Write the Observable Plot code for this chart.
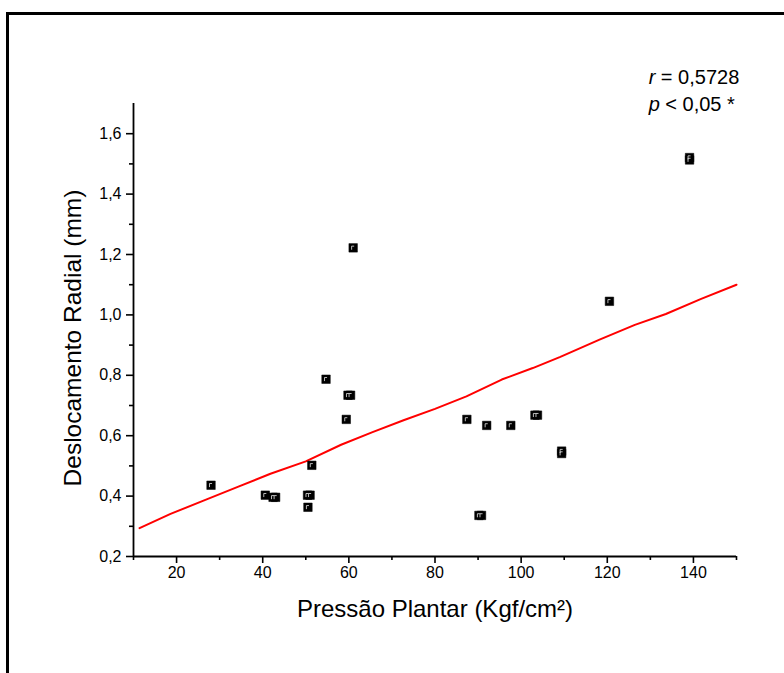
<!DOCTYPE html>
<html>
<head>
<meta charset="utf-8">
<script src="https://cdn.jsdelivr.net/npm/d3@7"></script>
<script src="https://cdn.jsdelivr.net/npm/@observablehq/plot@0.6"></script>
<style>
  html, body { margin: 0; padding: 0; background: #fff; width: 784px; height: 673px; overflow: hidden; }
  #frame { position: absolute; left: 6px; top: 12px; width: 900px; height: 900px; border: 3px solid #000; box-sizing: border-box; }
  #chart { position: absolute; left: 0; top: 0; }
  svg { font-family: "Liberation Sans", Arial, sans-serif; color: #000; }
</style>
</head>
<body>
<div id="frame"></div>
<div id="chart"></div>
<script>
// Scatter data: Pressão Plantar (x) vs Deslocamento Radial (y)
const pressao = [28.0, 40.6, 42.4, 43.0, 50.4, 51.0, 50.5, 51.4, 54.7, 59.4, 59.8, 60.4, 61.0,
                 87.4, 90.2, 90.8, 92.0, 97.6, 103.2, 103.8, 109.4, 109.4, 120.5, 139.1, 139.1];
const deslocamento = [0.436, 0.403, 0.396, 0.396, 0.403, 0.403, 0.363, 0.502, 0.787, 0.654, 0.734, 0.734, 1.222,
                      0.654, 0.336, 0.336, 0.634, 0.634, 0.668, 0.668, 0.541, 0.549, 1.045, 1.513, 1.521];

// Fitted red line
const fitX = [11.4, 18.6, 26.4, 34.5, 41.8, 50.0, 58.2, 65.5, 72.7, 80.0, 87.3, 95.5, 102.7, 109.1, 118.2, 126.4, 133.6, 141.8, 150.0];
const fitY = [0.294, 0.341, 0.386, 0.432, 0.474, 0.515, 0.570, 0.612, 0.651, 0.689, 0.730, 0.786, 0.824, 0.861, 0.918, 0.967, 1.003, 1.053, 1.100];

// Axis ticks
const xMajor = [20, 40, 60, 80, 100, 120, 140];
const xMinor = [10, 30, 50, 70, 90, 110, 130, 150];
const yMajor = [0.2, 0.4, 0.6, 0.8, 1.0, 1.2, 1.4, 1.6];
const yMinor = [0.3, 0.5, 0.7, 0.9, 1.1, 1.3, 1.5];

const xTitle = "Pressão Plantar (Kgf/cm²)";
const yTitle = "Deslocamento Radial (mm)";
const annot = ["r = 0,5728", "p < 0,05 *"];
const annotX = [129.6, 129.6];
const annotY = [1.763, 1.675];

const points = pressao.map((x, i) => ({x, y: deslocamento[i]}));
const fit = fitX.map((x, i) => ({x, y: fitY[i]}));
const annotData = annot.map((t, i) => ({t, x: annotX[i], y: annotY[i]}));

const fmt = d => d.toFixed(1).replace(".", ",");

const gamma = {
  draw(ctx, size) {
    const s = Math.sqrt(size);
    ctx.moveTo(-s * 0.18, s * 0.22);
    ctx.lineTo(-s * 0.18, -s * 0.2);
    ctx.lineTo(s * 0.12, -s * 0.2);
  }
};

const chart = Plot.plot({
  width: 784,
  height: 673,
  marginLeft: 133,
  marginRight: 48,
  marginTop: 103,
  marginBottom: 117,
  style: {background: "transparent", fontFamily: "Liberation Sans, Arial, sans-serif", color: "#000"},
  x: {domain: [10, 150]},
  y: {domain: [0.2, 1.7]},
  marks: [
    Plot.axisY({ticks: yMajor, tickSize: 7, tickPadding: 5, tickFormat: fmt, fontSize: 16, label: null, strokeWidth: 1.6}),
    Plot.axisY({ticks: yMinor, tickSize: 4, tickFormat: () => "", label: null, strokeWidth: 1.6}),
    Plot.axisX({ticks: xMajor, tickSize: 7, tickPadding: 3, fontSize: 16, label: null, strokeWidth: 1.6}),
    Plot.axisX({ticks: xMinor, tickSize: 4, tickFormat: () => "", label: null, strokeWidth: 1.6}),
    Plot.ruleX([10], {y1: 0.2, y2: 1.7, stroke: "#000", strokeWidth: 1.8}),
    Plot.ruleY([0.2], {x1: 10, x2: 150, stroke: "#000", strokeWidth: 1.8}),
    Plot.line(fit, {x: "x", y: "y", stroke: "#ff0000", strokeWidth: 2}),
    Plot.dot(points, {x: "x", y: "y", symbol: "square", r: 4.8, fill: "#000", stroke: "#000", strokeWidth: 0.5}),
    Plot.dot(points, {x: "x", y: "y", symbol: gamma, r: 4.8, fill: "none", stroke: "#e8e8e8", strokeWidth: 0.8}),
    Plot.text([xTitle], {frameAnchor: "bottom", dy: 60, fontSize: 24}),
    Plot.text([yTitle], {frameAnchor: "left", dx: -60, dy: 8, rotate: -90, textAnchor: "middle", fontSize: 24.5}),
    Plot.text(annotData, {x: "x", y: "y", text: "t", textAnchor: "start", lineAnchor: "bottom", fontSize: 20})
  ]
});

// italic r and p in the annotation
d3.select(chart).selectAll("text").each(function() {
  const t = this.textContent;
  if (t === annot[0] || t === annot[1]) {
    const first = t[0], rest = t.slice(1);
    const sel = d3.select(this);
    sel.text("");
    sel.append("tspan").attr("font-style", "italic").text(first);
    sel.append("tspan").text(rest);
  }
});

document.getElementById("chart").appendChild(chart);
</script>
</body>
</html>
